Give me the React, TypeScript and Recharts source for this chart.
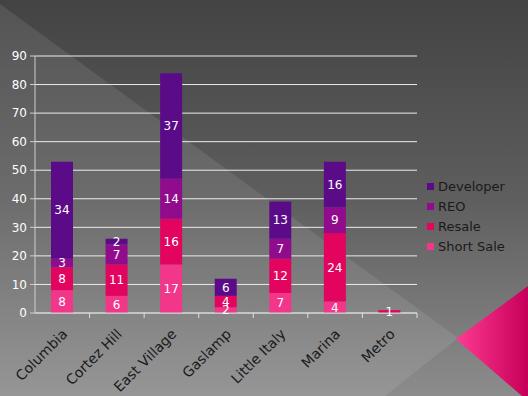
import { BarChart, Bar, XAxis, YAxis, CartesianGrid, LabelList } from 'recharts';

const categories = ['Columbia', 'Cortez Hill', 'East Village', 'Gaslamp', 'Little Italy', 'Marina', 'Metro'];
const shortSale = [8, 6, 17, 2, 7, 4, 0];
const resale = [8, 11, 16, 4, 12, 24, 1];
const reo = [3, 7, 14, 0, 7, 9, 0];
const developer = [34, 2, 37, 6, 13, 16, 0];
const yTicks = [0, 10, 20, 30, 40, 50, 60, 70, 80, 90];

const data = categories.map((name, i) => ({
  name,
  shortSale: shortSale[i],
  resale: resale[i],
  reo: reo[i],
  developer: developer[i],
}));

const W = 528;
const H = 396;
const PLOT_LEFT = 35;
const PLOT_RIGHT = 417;
const PLOT_BOTTOM = 313;
const FONT = '"DejaVu Sans", sans-serif';

const series = [
  { key: 'shortSale', name: 'Short Sale', color: '#f2368a' },
  { key: 'resale', name: 'Resale', color: '#e2045e' },
  { key: 'reo', name: 'REO', color: '#900c8c' },
  { key: 'developer', name: 'Developer', color: '#5b0b88' },
];

const hideZero = (v: any) => (Number(v) === 0 ? '' : v);

function CategoryTick(props: any) {
  const { x, y, payload } = props;
  const band = (PLOT_RIGHT - PLOT_LEFT) / categories.length;
  const tx = x + 6;
  const ty = y + 22;
  return (
    <g>
      <line x1={x + band / 2} y1={y} x2={x + band / 2} y2={y + 5} stroke="#e0e0e0" />
      <text
        x={tx}
        y={ty}
        transform={`rotate(-45 ${tx} ${ty})`}
        textAnchor="end"
        fill="#1a1a1a"
        fontSize={14}
        fontFamily={FONT}
      >
        {payload.value}
      </text>
    </g>
  );
}

function LegendBox() {
  // legend lists the top of the stack first
  const items = [...series].reverse();
  return (
    <div style={{ position: 'absolute', left: 427, top: 176, fontFamily: FONT, fontSize: 13, color: '#1a1a1a' }}>
      {items.map((it) => (
        <div key={it.key} style={{ display: 'flex', alignItems: 'center', height: 20 }}>
          <span style={{ width: 7, height: 7, background: it.color, marginRight: 4, display: 'inline-block' }} />
          {it.name}
        </div>
      ))}
    </div>
  );
}

export default function App() {
  return (
    <div style={{ position: 'absolute', left: 0, top: 0, width: W, height: H, overflow: 'hidden' }}>
      <svg width={W} height={H} style={{ position: 'absolute', left: 0, top: 0 }}>
        <defs>
          <linearGradient id="bg" x1="0" y1="0" x2="0" y2="1">
            <stop offset="0" stopColor="#434343" />
            <stop offset="0.5" stopColor="#5e5e5e" />
            <stop offset="1" stopColor="#8c8c8c" />
          </linearGradient>
          <linearGradient id="pink" x1="0" y1="0" x2="1" y2="0">
            <stop offset="0" stopColor="#ff3a92" />
            <stop offset="1" stopColor="#c6005a" />
          </linearGradient>
        </defs>
        <rect width={W} height={H} fill="url(#bg)" />
        <polygon points="0,4 458,338 385,396 0,396" fill="#ffffff" opacity={0.09} />
        <polygon points="456,339 528,286 528,396 522,396" fill="url(#pink)" />
      </svg>
      <div style={{ position: 'absolute', left: 0, top: 0 }}>
        <BarChart
          width={W}
          height={H}
          data={data}
          margin={{ top: 56, right: W - PLOT_RIGHT, bottom: 0, left: 0 }}
          barSize={22}
        >
          <CartesianGrid vertical={false} stroke="#ececec" />
          <XAxis
            dataKey="name"
            height={H - PLOT_BOTTOM}
            stroke="#cfcfcf"
            tickSize={0}
            tickMargin={0}
            tick={<CategoryTick />}
            interval={0}
          />
          <YAxis
            width={PLOT_LEFT}
            domain={[0, 90]}
            ticks={yTicks}
            stroke="#cfcfcf"
            tickSize={5}
            tickMargin={3}
            tick={{ fill: '#ffffff', fontSize: 12, fontFamily: FONT }}
            interval={0}
          />
          {series.map((s) => (
            <Bar key={s.key} dataKey={s.key} name={s.name} stackId="a" fill={s.color} isAnimationActive={false}>
              <LabelList
                dataKey={s.key}
                position="center"
                formatter={hideZero}
                fill="#ffffff"
                fontSize={12}
                fontFamily={FONT}
              />
            </Bar>
          ))}
        </BarChart>
      </div>
      <LegendBox />
    </div>
  );
}
